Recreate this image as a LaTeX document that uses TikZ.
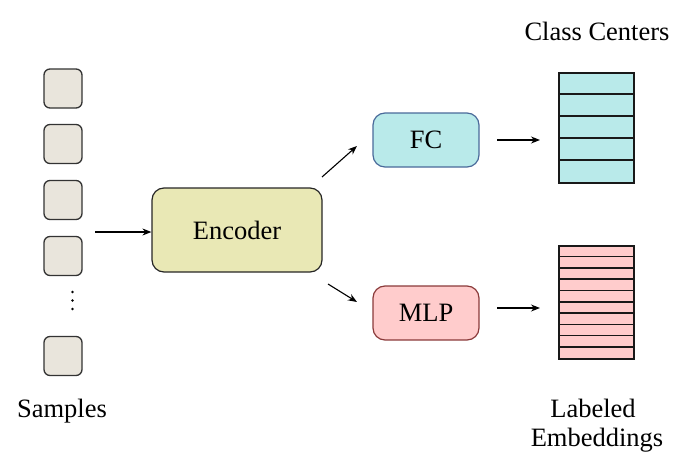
\documentclass[tikz,border=0pt]{standalone}
\usepackage{fontspec}
\setmainfont{Liberation Serif}
\usetikzlibrary{arrows.meta}
\definecolor{samplefill}{HTML}{E9E5DC}
\definecolor{encfill}{HTML}{E9E8B5}
\definecolor{fcfill}{HTML}{B9EAEA}
\definecolor{fcdraw}{HTML}{4A6A9A}
\definecolor{mlpfill}{HTML}{FFCCCC}
\definecolor{mlpdraw}{HTML}{8A3A3A}
\begin{document}
\begin{tikzpicture}[x=1pt,y=-1pt,
  txt/.style={font=\fontsize{26.5}{30}\selectfont, inner sep=0pt},
  sample/.style={draw=black!80, line width=1.3pt, fill=samplefill, rounded corners=6pt, minimum width=38pt, minimum height=39pt, inner sep=0pt},
  block/.style={line width=1.2pt, rounded corners=12pt, inner sep=0pt, font=\fontsize{26.5}{30}\selectfont},
  arr/.style={-{Stealth[length=9pt,width=7pt]}, line width=1.1pt},
  tbl/.style={draw=black!90, line width=1.6pt},
  dot/.style={circle, fill=black, inner sep=0pt, minimum size=2.6pt}
]
\useasboundingbox (0,0) rectangle (689,471);
% samples
\node[sample] (s1) at (63,88.5) {};
\node[sample] (s2) at (63,144) {};
\node[sample] (s3) at (63,200) {};
\node[sample] (s4) at (63,256) {};
\node[sample] (s5) at (63,356) {};
\node[dot] (d1) at (72.5,292) {};
\node[dot] (d2) at (72.5,300.5) {};
\node[dot] (d3) at (72.5,309) {};
\node[txt] (samples) at (62,411) {Samples};
% encoder
\node[block, draw=black!85, fill=encfill, minimum width=170pt, minimum height=84pt] (enc) at (237,230) {Encoder};
\coordinate (ain) at (95,232);
\draw[arr] (ain) -- (enc.west |- ain);
% FC / MLP
\node[block, draw=fcdraw, fill=fcfill, minimum width=106pt, minimum height=54pt] (fc) at (426,140) {FC};
\node[block, draw=mlpdraw, fill=mlpfill, minimum width=106pt, minimum height=54pt] (mlp) at (426,313) {MLP};
\coordinate (e1) at (322,177);
\coordinate (f1) at (357,146);
\coordinate (e2) at (328,284);
\coordinate (m1) at (357,302);
\draw[arr] (e1) -- (f1);
\draw[arr] (e2) -- (m1);
% tables
\node[tbl, fill=fcfill, minimum width=75pt, minimum height=110pt, inner sep=0pt] (cc) at (596.5,128) {};
\foreach \i in {1,...,4} {
  \draw[tbl] ([yshift={-22*\i}]cc.north west) -- ([yshift={-22*\i}]cc.north east);
}
\node[tbl, fill=mlpfill, minimum width=75pt, minimum height=113pt, inner sep=0pt] (le) at (596.5,302.5) {};
\foreach \i in {1,...,9} {
  \draw[tbl] ([yshift={-11.3*\i}]le.north west) -- ([yshift={-11.3*\i}]le.north east);
}
\coordinate (fo) at (497,140);
\coordinate (fe) at (540,140);
\coordinate (mo) at (497,308);
\coordinate (me) at (540,308);
\draw[arr] (fo) -- (fe);
\draw[arr] (mo) -- (me);
\node[txt] (cctxt) at (597,31) {Class Centers};
\node[txt] (l1) at (593,408) {Labeled};
\node[txt] (l2) at (597,440) {Embeddings};
\end{tikzpicture}
\end{document}
